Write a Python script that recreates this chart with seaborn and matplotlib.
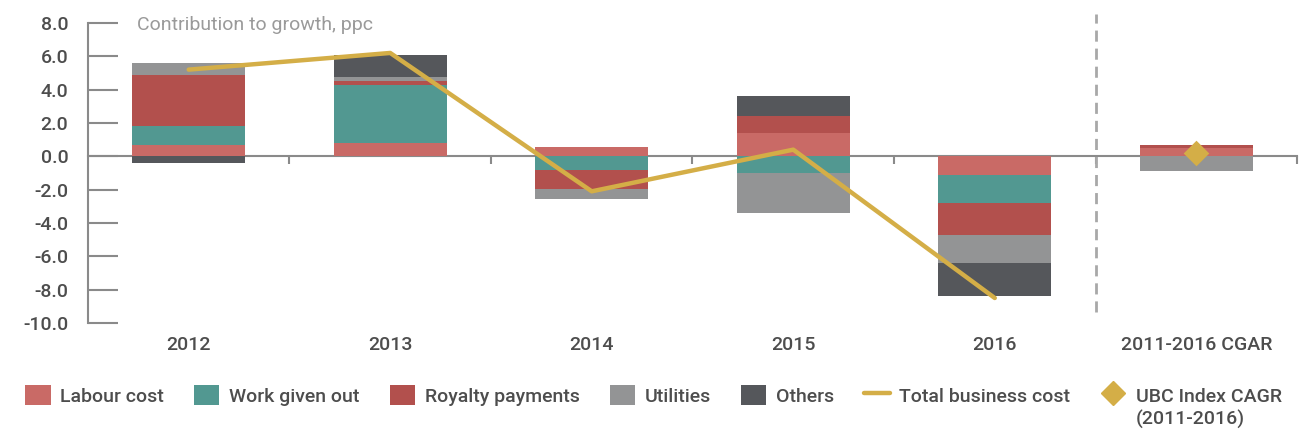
import numpy as np
import matplotlib
matplotlib.use("Agg")
import matplotlib.pyplot as plt
import matplotlib.patches as mpatches
from matplotlib.lines import Line2D
from matplotlib.ticker import FormatStrFormatter
import seaborn as sns

# Dados
categories = ["2012", "2013", "2014", "2015", "2016", "2011-2016 CGAR"]
labour = [0.7, 0.8, 0.55, 1.4, -1.1, 0.5]
work_given_out = [1.1, 3.5, -0.8, -1.0, -1.7, 0.0]
royalty = [3.1, 0.2, -1.15, 1.0, -1.9, 0.15]
utilities = [0.7, 0.25, -0.6, -2.4, -1.7, -0.9]
others = [-0.4, 1.3, 0.0, 1.2, -2.0, 0.0]
total_cost = [5.2, 6.2, -2.1, 0.4, -8.5]   # 2012..2016
ubc_cagr = [0.2]                            # 2011-2016 CGAR

layers = {
    "Labour cost": labour,
    "Work given out": work_given_out,
    "Royalty payments": royalty,
    "Utilities": utilities,
    "Others": others,
}
colors = {
    "Labour cost": "#C96A66",
    "Work given out": "#529891",
    "Royalty payments": "#B2504D",
    "Utilities": "#939495",
    "Others": "#55575B",
}
gold = "#D4AE47"
axis_gray = "#8A8A8A"
text_gray = "#4D4D4D"
fs = 14

sns.set_style("white")
plt.rcParams["font.family"] = ["Roboto", "DejaVu Sans"]
plt.rcParams["font.weight"] = "medium"
plt.rcParams["axes.unicode_minus"] = False

fig = plt.figure(figsize=(12.99, 4.33), dpi=100)
ax = fig.add_axes([0.0677, 0.254, 0.9308, 0.693])

# Barras empilhadas (positivos para cima, negativos para baixo)
pos_base = np.zeros(len(categories))
neg_base = np.zeros(len(categories))
for name, vals in layers.items():
    vals = np.array(vals, dtype=float)
    bottom = np.where(vals >= 0, pos_base, neg_base)
    sns.barplot(x=categories, y=vals, bottom=bottom, color=colors[name],
                saturation=1, width=0.56, errorbar=None, linewidth=0,
                edgecolor="none", ax=ax, zorder=2)
    pos_base += np.clip(vals, 0, None)
    neg_base += np.clip(vals, None, 0)

# Linha do custo total e losango do CAGR
sns.lineplot(x=np.arange(len(total_cost)), y=total_cost, color=gold,
             linewidth=3.2, ax=ax, legend=False, zorder=4)
sns.scatterplot(x=[len(categories) - 1], y=ubc_cagr, marker="D", s=170,
                color=gold, linewidth=0, ax=ax, legend=False, zorder=5)

ymin, ymax = -10, 8
ax.set_xlim(-0.5, len(categories) - 0.5)
ax.set_ylim(ymin, ymax)

# Eixo Y
ax.set_yticks(np.arange(ymin, ymax + 0.1, 2))
ax.yaxis.set_major_formatter(FormatStrFormatter("%.1f"))
ax.tick_params(axis="y", left=True, direction="in", length=21.5, width=1.5,
               color=axis_gray, pad=14, labelsize=fs, labelcolor=text_gray)
for s in ["top", "right", "bottom"]:
    ax.spines[s].set_visible(False)
ax.spines["left"].set_color(axis_gray)
ax.spines["left"].set_linewidth(1.5)

# Eixo X: rótulos embaixo
ax.tick_params(axis="x", bottom=False, length=0, pad=9, labelsize=fs,
               labelcolor=text_gray)
ax.set_xlabel("")

# Linha do zero com marcas entre categorias
zero_frac = (0 - ymin) / (ymax - ymin)
sec = ax.secondary_xaxis(zero_frac)
sec.set_alignment("bottom")
sec.set_xticks(np.arange(len(categories)) + 0.5, labels=[""] * len(categories))
sec.tick_params(bottom=True, direction="out", length=6, width=1.5, color=axis_gray)
sec.spines["bottom"].set_color(axis_gray)
sec.spines["bottom"].set_linewidth(1.5)

# Separador tracejado antes do CAGR
ax.axvline(len(categories) - 1.5, ymin=0.037, ymax=1.03, color="#A8A8A8",
           linewidth=2, linestyle=(0, (4, 2.5)), clip_on=False, zorder=1)

ax.text(0.0405, 0.993, "Contribution to growth, ppc", transform=ax.transAxes,
        ha="left", va="center", fontsize=fs, fontweight="normal", color="#9A9A9A")

# Legenda
handles = [mpatches.Patch(facecolor=colors[n], edgecolor="none", label=n) for n in layers]
handles.append(Line2D([], [], color=gold, linewidth=3.2, label="Total business cost"))
handles.append(Line2D([], [], color=gold, marker="D", markersize=12, linestyle="none",
                      label="UBC Index CAGR"))
leg = fig.legend(handles=handles, loc="center left", bbox_to_anchor=(0.006, 0.087),
                 ncol=7, frameon=False, fontsize=fs, handlelength=1.3, handleheight=1.25,
                 handletextpad=0.5, columnspacing=1.55, labelcolor=text_gray)

# segunda linha do rótulo do losango
fig.canvas.draw()
bb = leg.get_texts()[-1].get_window_extent()
fig.text(bb.x0 / fig.bbox.width, (bb.y0 - 4) / fig.bbox.height, "(2011-2016)",
         ha="left", va="top", fontsize=fs, color=text_gray)

fig.savefig("out.png", dpi=100)
